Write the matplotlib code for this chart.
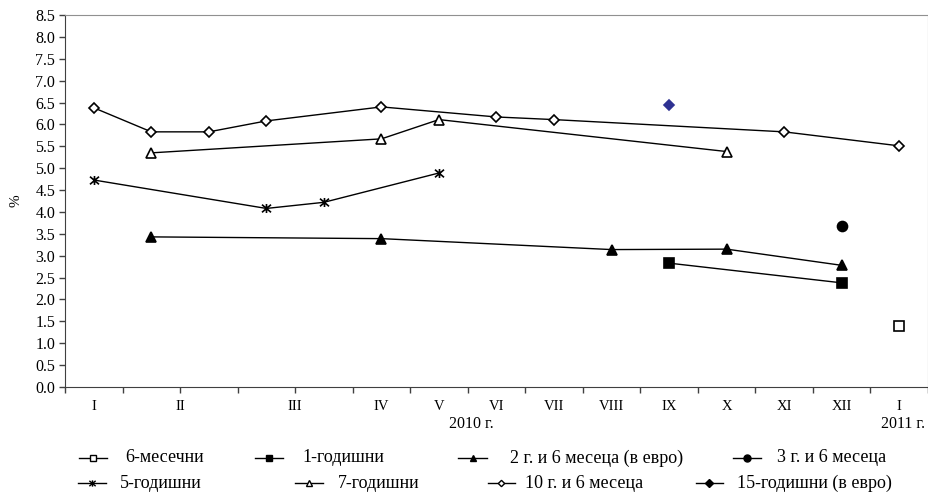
"""Yield curve of Bulgarian government securities, 2010."""

import matplotlib
matplotlib.use('Agg')
import matplotlib.pyplot as plt
from matplotlib.lines import Line2D
from matplotlib.path import Path
from matplotlib.transforms import blended_transform_factory

plt.rcParams['font.family'] = ['Liberation Serif', 'DejaVu Serif']

# category slots along the x axis (15 auction dates)
n_slots = 15

month_labels = ['I', 'II', 'III', 'IV', 'V', 'VI', 'VII', 'VIII', 'IX', 'X', 'XI', 'XII', 'I']
month_pos = [0.5, 2.0, 4.0, 5.5, 6.5, 7.5, 8.5, 9.5, 10.5, 11.5, 12.5, 13.5, 14.5]

# series: slot indices and yields (%)
m6_idx = [14]
m6_val = [1.39]

y1_idx = [10, 13]
y1_val = [2.83, 2.38]

y2m6_idx = [1, 5, 9, 11, 13]
y2m6_val = [3.43, 3.39, 3.14, 3.15, 2.78]

y3m6_idx = [13]
y3m6_val = [3.68]

y5_idx = [0, 3, 4, 6]
y5_val = [4.73, 4.08, 4.22, 4.89]

y7_idx = [1, 5, 6, 11]
y7_val = [5.35, 5.67, 6.11, 5.38]

y10m6_idx = [0, 1, 2, 3, 5, 7, 8, 12, 14]
y10m6_val = [6.38, 5.83, 5.83, 6.08, 6.40, 6.17, 6.11, 5.83, 5.51]

y15_idx = [10]
y15_val = [6.45]

asterisk = Path([(-1, -0.85), (1, 0.85), (-1, 0.85), (1, -0.85), (0, -1.0), (0, 1.0)],
                [Path.MOVETO, Path.LINETO, Path.MOVETO, Path.LINETO, Path.MOVETO, Path.LINETO])

series = [
    ('6-месечни', m6_idx, m6_val, dict(marker='s', ms=6.8, mfc='white', mec='black', color='black')),
    ('1-годишни', y1_idx, y1_val, dict(marker='s', ms=6.8, mfc='black', mec='black', color='black')),
    ('2 г. и 6 месеца (в евро)', y2m6_idx, y2m6_val, dict(marker='^', ms=7, mfc='black', mec='black', color='black')),
    ('3 г. и 6 месеца', y3m6_idx, y3m6_val, dict(marker='o', ms=7.2, mfc='black', mec='black', color='black')),
    ('5-годишни', y5_idx, y5_val, dict(marker=asterisk, ms=6.5, mfc='none', mec='black', color='black')),
    ('7-годишни', y7_idx, y7_val, dict(marker='^', ms=7, mfc='white', mec='black', color='black')),
    ('10 г. и 6 месеца', y10m6_idx, y10m6_val, dict(marker='D', ms=4.6, mfc='white', mec='black', color='black')),
    ('15-годишни (в евро)', y15_idx, y15_val, dict(marker='D', ms=5.2, mfc='#2E3192', mec='#2E3192', color='#2E3192')),
]

fig = plt.figure(figsize=(9.29, 4.97), dpi=100)
ax = fig.add_axes([65 / 929, 1 - 387 / 497, 863 / 929, 372 / 497])

for name, idx, val, style in series:
    ax.plot([i + 0.5 for i in idx], val, lw=1.0, mew=1.2, clip_on=False, **style)

ax.set_xlim(0, n_slots)
ax.set_ylim(0, 8.5)
ax.set_yticks([i * 0.5 for i in range(18)])
ax.set_yticklabels(['%.1f' % (i * 0.5) for i in range(18)], fontsize=11.5)
ax.xaxis.remove_overlapping_locs = False
ax.set_xticks(range(n_slots + 1))
ax.set_xticklabels([])
ax.set_xticks(month_pos, minor=True)
ax.set_xticklabels(month_labels, minor=True, fontsize=10.5)
ax.tick_params(axis='x', which='minor', length=0, pad=9)
ax.tick_params(axis='both', which='major', length=4, width=1, color='#404040', pad=3)

for side in ['left', 'bottom']:
    ax.spines[side].set_color('#404040')
for side in ['top', 'right']:
    ax.spines[side].set_color('#909090')

ax.set_ylabel('%', fontsize=11)
ax.yaxis.set_label_coords(-0.049, 0.5)

trans = blended_transform_factory(ax.transData, ax.transAxes)
ax.text(7.06, -0.1, '2010 г.', transform=trans, ha='center', va='center', fontsize=11.5)
ax.text(14.56, -0.1, '2011 г.', transform=trans, ha='center', va='center', fontsize=11.5)

# legend drawn by hand, two rows as in the original
legend_pos = [
    (79, 107, 125, 458), (255, 283, 302, 458), (458, 487, 510, 458), (733, 761, 777, 458),
    (78, 106, 120, 483), (295, 323, 338, 483), (488, 515, 525, 483), (696, 723, 737, 483),
]
for (name, idx, val, style), (x0, x1, xt, yy) in zip(series, legend_pos):
    fy = 1 - yy / 497
    fig.add_artist(Line2D([x0 / 929, x1 / 929], [fy, fy], color='black', lw=1.0,
                          transform=fig.transFigure))
    st = dict(style)
    st['ms'] = style['ms'] * 0.7
    st['color'] = 'black'
    if st['mfc'] not in ('white', 'none'):
        st['mfc'] = 'black'
    st['mec'] = 'black'
    fig.add_artist(Line2D([(x0 + x1) / 2 / 929], [fy], lw=0, mew=1, transform=fig.transFigure, **st))
    fig.text(xt / 929, fy, name, ha='left', va='center', fontsize=13)

fig.savefig('out.png', dpi=100)
